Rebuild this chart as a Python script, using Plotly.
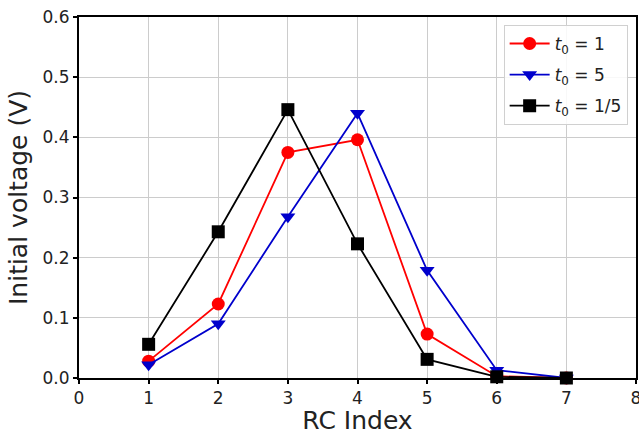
import plotly.graph_objects as go

# RC stage index
rc_index = [1, 2, 3, 4, 5, 6, 7]

# Initial voltage (V) for each time constant
v_t0_1 = [0.028, 0.123, 0.375, 0.396, 0.073, 0.003, 0.0]
v_t0_5 = [0.022, 0.090, 0.268, 0.440, 0.179, 0.013, 0.0]
v_t0_1_5 = [0.056, 0.243, 0.446, 0.223, 0.031, 0.002, 0.0]

series = [
    ("<i>t</i><sub>0</sub> = 1", v_t0_1, "#ff0000", "circle"),
    ("<i>t</i><sub>0</sub> = 5", v_t0_5, "#0000cc", "triangle-down"),
    ("<i>t</i><sub>0</sub> = 1/5", v_t0_1_5, "#000000", "square"),
]

fig = go.Figure()
for i, (name, vals, color, sym) in enumerate(series):
    fig.add_trace(go.Scatter(
        x=rc_index, y=vals, name=name, mode="lines+markers",
        legendgroup=f"g{i}",
        line=dict(color=color, width=1.8),
        marker=dict(symbol=sym, size=13, color=color),
        cliponaxis=False,
    ))

font_family = "DejaVu Sans, sans-serif"
axis_common = dict(
    showline=True, linecolor="black", linewidth=2, mirror=True,
    showgrid=True, gridcolor="#cccccc", gridwidth=1,
    ticks="outside", ticklen=4, tickcolor="black", tickwidth=1.5,
    tickfont=dict(size=17, color="#222222", family=font_family),
    ticklabeloverflow="allow", automargin=False,
    zeroline=False,
)

fig.update_layout(
    width=639, height=435,
    margin=dict(l=79, r=3, t=17, b=57),
    paper_bgcolor="white", plot_bgcolor="white",
    font=dict(family=font_family, color="#222222"),
    xaxis=dict(range=[0, 8], dtick=1, tick0=0,
               title=dict(text="RC Index", font=dict(size=25), standoff=2),
               **axis_common),
    yaxis=dict(range=[0, 0.6], dtick=0.1, tick0=0, tickformat=".1f",
               title=dict(text="Initial voltage (V)", font=dict(size=25), standoff=8),
               **axis_common),
    legend=dict(
        x=0.985, y=0.978, xanchor="right", yanchor="top",
        bgcolor="rgba(255,255,255,0.85)", bordercolor="#d0d0d0", borderwidth=1,
        font=dict(size=17, color="#222222", family=font_family),
        tracegroupgap=6, itemwidth=40,
    ),
    showlegend=True,
)

fig.write_html("out.html")
